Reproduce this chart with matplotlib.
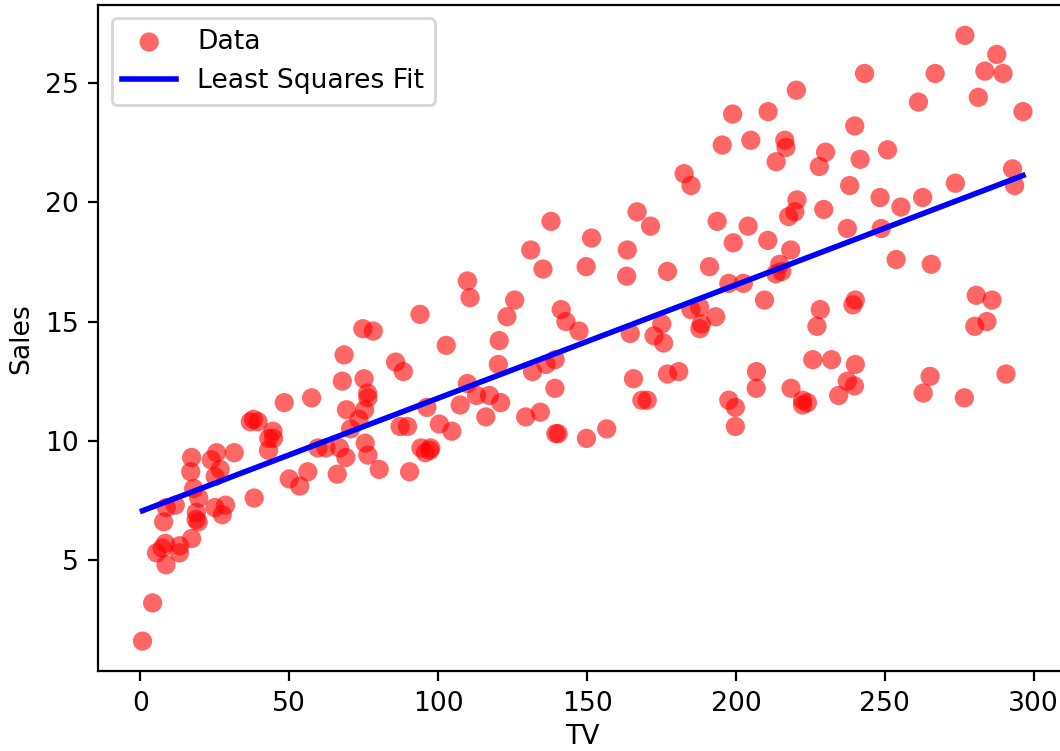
import numpy as np
import matplotlib
matplotlib.use("Agg")
import matplotlib.pyplot as plt

# Advertising data: TV budget and Sales
tv = [230.1, 44.5, 17.2, 151.5, 180.8, 8.7, 57.5, 120.2, 8.6, 199.8,
      66.1, 214.7, 23.8, 97.5, 204.1, 195.4, 67.8, 281.4, 69.2, 147.3,
      218.4, 237.4, 13.2, 228.3, 62.3, 262.9, 142.9, 240.1, 248.8, 70.6,
      292.9, 112.9, 97.2, 265.6, 95.7, 290.7, 266.9, 74.7, 43.1, 228.0,
      202.5, 177.0, 293.6, 206.9, 25.1, 175.1, 89.7, 239.9, 227.2, 66.9,
      199.8, 100.4, 216.4, 182.6, 262.7, 198.9, 7.3, 136.2, 210.8, 210.7,
      53.5, 261.3, 239.3, 102.7, 131.1, 69.0, 31.5, 139.3, 237.4, 216.8,
      199.1, 109.8, 26.8, 129.4, 213.4, 16.9, 27.5, 120.5, 5.4, 116.0,
      76.4, 239.8, 75.3, 68.4, 213.5, 193.2, 76.3, 110.7, 88.3, 109.8,
      134.3, 28.6, 217.7, 250.9, 107.4, 163.3, 197.6, 184.9, 289.7, 135.2,
      222.4, 296.4, 280.2, 187.9, 238.2, 137.9, 25.0, 90.4, 13.1, 255.4,
      225.8, 241.7, 175.7, 209.6, 78.2, 75.1, 139.2, 76.4, 125.7, 19.4,
      141.3, 18.8, 224.0, 123.1, 229.5, 87.2, 7.8, 80.2, 220.3, 59.6,
      0.7, 265.2, 8.4, 219.8, 36.9, 48.3, 25.6, 273.7, 43.0, 184.9,
      73.4, 193.7, 220.5, 104.6, 96.2, 140.3, 240.1, 243.2, 38.0, 44.7,
      280.7, 121.0, 197.6, 171.3, 187.8, 4.1, 93.9, 149.8, 11.7, 131.7,
      172.5, 85.7, 188.4, 163.5, 117.2, 234.5, 17.9, 206.8, 215.4, 284.3,
      50.0, 164.5, 19.6, 168.4, 222.4, 276.9, 248.4, 170.2, 276.7, 165.6,
      156.6, 218.5, 56.2, 287.6, 253.8, 205.0, 139.5, 191.1, 286.0, 18.7,
      39.5, 75.5, 17.2, 166.8, 149.7, 38.2, 94.2, 177.0, 283.6, 232.1]

sales = [22.1, 10.4, 9.3, 18.5, 12.9, 7.2, 11.8, 13.2, 4.8, 10.6,
         8.6, 17.4, 9.2, 9.7, 19.0, 22.4, 12.5, 24.4, 11.3, 14.6,
         18.0, 12.5, 5.6, 15.5, 9.7, 12.0, 15.0, 15.9, 18.9, 10.5,
         21.4, 11.9, 9.6, 17.4, 9.5, 12.8, 25.4, 14.7, 10.1, 21.5,
         16.6, 17.1, 20.7, 12.9, 8.5, 14.9, 10.6, 23.2, 14.8, 9.7,
         11.4, 10.7, 22.6, 21.2, 20.2, 23.7, 5.5, 13.2, 23.8, 18.4,
         8.1, 24.2, 15.7, 14.0, 18.0, 9.3, 9.5, 13.4, 18.9, 22.3,
         18.3, 12.4, 8.8, 11.0, 17.0, 8.7, 6.9, 14.2, 5.3, 11.0,
         11.8, 12.3, 11.3, 13.6, 21.7, 15.2, 12.0, 16.0, 12.9, 16.7,
         11.2, 7.3, 19.4, 22.2, 11.5, 16.9, 11.7, 15.5, 25.4, 17.2,
         11.7, 23.8, 14.8, 14.7, 20.7, 19.2, 7.2, 8.7, 5.3, 19.8,
         13.4, 21.8, 14.1, 15.9, 14.6, 12.6, 12.2, 9.4, 15.9, 6.6,
         15.5, 7.0, 11.6, 15.2, 19.7, 10.6, 6.6, 8.8, 24.7, 9.7,
         1.6, 12.7, 5.7, 19.6, 10.8, 11.6, 9.5, 20.8, 9.6, 20.7,
         10.9, 19.2, 20.1, 10.4, 11.4, 10.3, 13.2, 25.4, 10.9, 10.1,
         16.1, 11.6, 16.6, 19.0, 15.6, 3.2, 15.3, 10.1, 7.3, 12.9,
         14.4, 13.3, 14.9, 18.0, 11.9, 11.9, 8.0, 12.2, 17.1, 15.0,
         8.4, 14.5, 7.6, 11.7, 11.5, 27.0, 20.2, 11.7, 11.8, 12.6,
         10.5, 12.2, 8.7, 26.2, 17.6, 22.6, 10.3, 17.3, 15.9, 6.7,
         10.8, 9.9, 5.9, 19.6, 17.3, 7.6, 9.7, 12.8, 25.5, 13.4]

x = np.array(tv)
y = np.array(sales)

# Least squares fit
slope, intercept = np.polyfit(x, y, 1)
x_line = np.array([x.min(), x.max()])
y_line = intercept + slope * x_line

plt.rcParams['font.size'] = 9.6

# figure is cut off on the right, like the reference
fig = plt.figure(figsize=(1060 / 200, 751 / 200), dpi=200)
ax = fig.add_axes([0.0929, 0.106, 0.9137, 0.8873])
ax.scatter(x, y, s=48, color='red', alpha=0.6, edgecolors='none', label='Data')
ax.plot(x_line, y_line, color='blue', linewidth=2, label='Least Squares Fit')
ax.set_xlabel('TV', labelpad=2.5)
ax.set_ylabel('Sales')
ax.legend(loc='upper left')
fig.savefig('out.png', dpi=200)
